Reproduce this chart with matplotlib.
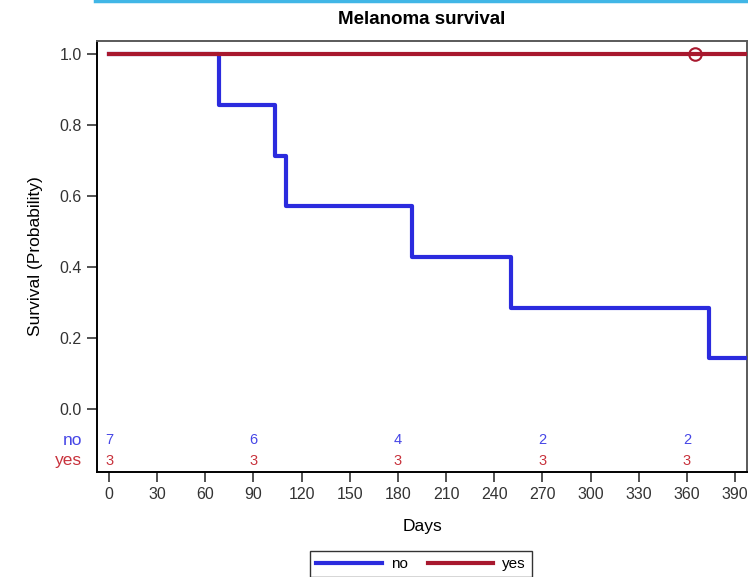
import numpy as np
import matplotlib
matplotlib.use("Agg")
import matplotlib.pyplot as plt
from matplotlib.lines import Line2D

# Kaplan-Meier steps
no_days = [0, 68.5, 103.5, 110, 189, 250.5, 374, 400]
no_surv = [1.0, 0.857, 0.714, 0.571, 0.429, 0.286, 0.143, 0.143]
yes_days = [0, 400]
yes_surv = [1.0, 1.0]
yes_censor_days = [365]
yes_censor_surv = [1.0]

# numbers at risk
risk_days = [0, 90, 180, 270, 360]
risk_no = [7, 6, 4, 2, 2]
risk_yes = [3, 3, 3, 3, 3]

xticks = list(range(0, 391, 30))
yticks = [0.0, 0.2, 0.4, 0.6, 0.8, 1.0]

blue = '#2B2BDE'
red = '#A8182E'
blue_txt = '#4646E6'
red_txt = '#C8323C'

plt.rcParams['font.family'] = ['Liberation Sans', 'DejaVu Sans']

W, H = 748, 577
fig = plt.figure(figsize=(W / 100, H / 100), dpi=100)
ax = fig.add_axes([97 / W, 1 - 472 / H, (747 - 97) / W, (472 - 41) / H])

ax.step(no_days, no_surv, where='post', color=blue, lw=3, zorder=3)
ax.step(yes_days, yes_surv, where='post', color=red, lw=3, zorder=4)
ax.plot(yes_censor_days, yes_censor_surv, 'o', ms=9, mfc='none', mec=red, mew=1.5, zorder=5)

ax.set_xlim(-7.5, 397.5)
ax.set_ylim(-0.177, 1.037)
ax.set_xticks(xticks)
ax.set_yticks(yticks)
ax.set_yticklabels(['%.1f' % v for v in yticks])
ax.tick_params(axis='both', length=7, width=1.2, color='#333333', labelcolor='#333333',
               labelsize=11.5, pad=4)

for sp in ['left', 'bottom']:
    ax.spines[sp].set_color('black')
    ax.spines[sp].set_linewidth(1.4)
for sp in ['top', 'right']:
    ax.spines[sp].set_color('#5a5a5a')
    ax.spines[sp].set_linewidth(1.4)

# at risk table inside the plot
for d, n in zip(risk_days, risk_no):
    ax.text(d, -0.087, str(n), color=blue_txt, fontsize=10.5, ha='center', va='center')
for d, n in zip(risk_days, risk_yes):
    ax.text(d, -0.146, str(n), color=red_txt, fontsize=10.5, ha='center', va='center')
ax.text(-0.023, -0.087, 'no', transform=ax.get_yaxis_transform(), color=blue_txt,
        fontsize=12.5, ha='right', va='center')
ax.text(-0.023, -0.146, 'yes', transform=ax.get_yaxis_transform(), color=red_txt,
        fontsize=12.5, ha='right', va='center')

ax.set_title('Melanoma survival', fontsize=13.5, fontweight='bold', pad=12)
ax.set_xlabel('Days', fontsize=12.5, labelpad=12)
ax.set_ylabel('Survival (Probability)', fontsize=12.5, labelpad=12)

handles = [Line2D([], [], color=blue, lw=3), Line2D([], [], color=red, lw=3)]
leg = fig.legend(handles, ['no', 'yes'], loc='upper center', ncol=2,
                 bbox_to_anchor=(421 / W, 1 - 551 / H), borderaxespad=0, fontsize=11,
                 frameon=True, fancybox=False, edgecolor='black', handlelength=4.3,
                 columnspacing=1.3, handletextpad=0.6, borderpad=0.4)
leg.get_frame().set_linewidth(1.0)

# light blue strip at the top edge
fig.add_artist(Line2D([95 / W, 1], [1 - 1 / H, 1 - 1 / H], color='#41B6E6', lw=2.5))

fig.savefig('out.png', dpi=100)
